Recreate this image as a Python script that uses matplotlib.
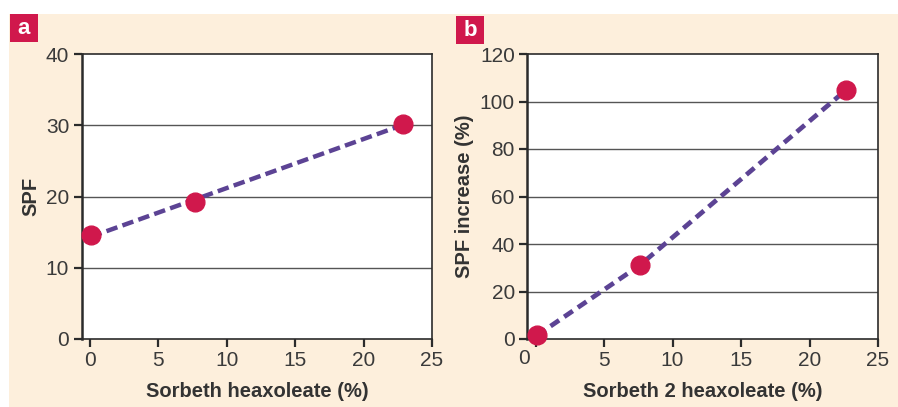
import numpy as np
import matplotlib.pyplot as plt
import matplotlib.transforms as mtransforms
from matplotlib.patches import Rectangle

# panel a: SPF vs sorbeth heaxoleate
conc_a = [0.05, 7.7, 22.9]
spf_a = [14.6, 19.2, 30.2]

# panel b: SPF increase vs sorbeth 2 heaxoleate
conc_b = [0.1, 7.6, 22.7]
spf_inc_b = [1.5, 31.0, 105.0]

cream = '#FDEFDC'
crimson = '#D0184C'
purple = '#5C4394'
dark = '#2b2b2b'

plt.rcParams['font.family'] = ['Liberation Sans', 'DejaVu Sans']

fig = plt.figure(figsize=(8.98, 4.07), dpi=100, facecolor='white')
fig.patches.append(Rectangle((9 / 898, 0), 1, (407 - 14) / 407, transform=fig.transFigure,
                             facecolor=cream, edgecolor='none', zorder=-10))

ax_a = fig.add_axes([81.7 / 898, 68 / 407, (432 - 81.7) / 898, 285 / 407])
ax_b = fig.add_axes([527.3 / 898, 68 / 407, (878 - 527.3) / 898, 285 / 407])


def style(ax, ylim, yticks, xlabel, ylabel):
    ax.set_facecolor('white')
    ax.set_xlim(-0.6, 25)
    ax.set_ylim(*ylim)
    ax.set_xticks([0, 5, 10, 15, 20, 25])
    ax.set_yticks(yticks)
    for y in yticks[1:-1]:
        ax.axhline(y, color='#555555', lw=1.0, zorder=1)
    for s in ax.spines.values():
        s.set_color(dark)
        s.set_linewidth(1.2)
    ax.spines['left'].set_linewidth(1.8)
    ax.tick_params(direction='out', length=6, width=1.6, color=dark,
                   labelsize=15, labelcolor='#3a3a3a', pad=3)
    ax.set_xlabel(xlabel, fontsize=14.5, fontweight='bold', color='#333333', labelpad=8)
    ax.set_ylabel(ylabel, fontsize=14.5, fontweight='bold', color='#333333', labelpad=4)


style(ax_a, (0, 40), [0, 10, 20, 30, 40], 'Sorbeth heaxoleate (%)', 'SPF')
# panel a: straight trend line through the points
coef = np.polyfit(conc_a, spf_a, 1)
xs = np.array([conc_a[0], conc_a[-1]])
line, = ax_a.plot(xs, np.polyval(coef, xs), color=purple, lw=3.2, zorder=3)
line.set_dashes((2.6, 1.2))
ax_a.plot(conc_a, spf_a, 'o', color=crimson, markersize=13.5, zorder=4, clip_on=False)

style(ax_b, (0, 120), [0, 20, 40, 60, 80, 100, 120], 'Sorbeth 2 heaxoleate (%)', 'SPF increase (%)')
line, = ax_b.plot(conc_b, spf_inc_b, color=purple, lw=3.4, zorder=3)
line.set_dashes((2.2, 1.3))
ax_b.plot(conc_b, spf_inc_b, 'o', color=crimson, markersize=13.5, zorder=4, clip_on=False)

# the "0" label in panel b sits at the axis corner
ax_b.set_xticklabels(['', '5', '10', '15', '20', '25'])
trans = mtransforms.blended_transform_factory(ax_b.transAxes, ax_b.transAxes)
ax_b.text(-0.01, -0.035, '0', transform=trans, ha='center', va='top',
          fontsize=15, color='#3a3a3a')

# panel letters
for xpos, ypos, letter in [(10, 14, 'a'), (456, 16, 'b')]:
    fig.patches.append(Rectangle((xpos / 898, (407 - ypos - 28) / 407), 28 / 898, 28 / 407,
                                 transform=fig.transFigure, facecolor=crimson,
                                 edgecolor='none'))
    fig.text((xpos + 14) / 898, (407 - ypos - 14) / 407, letter, color='white',
             fontsize=16, fontweight='bold', ha='center', va='center')

fig.savefig('out.png', dpi=100, facecolor=fig.get_facecolor())
